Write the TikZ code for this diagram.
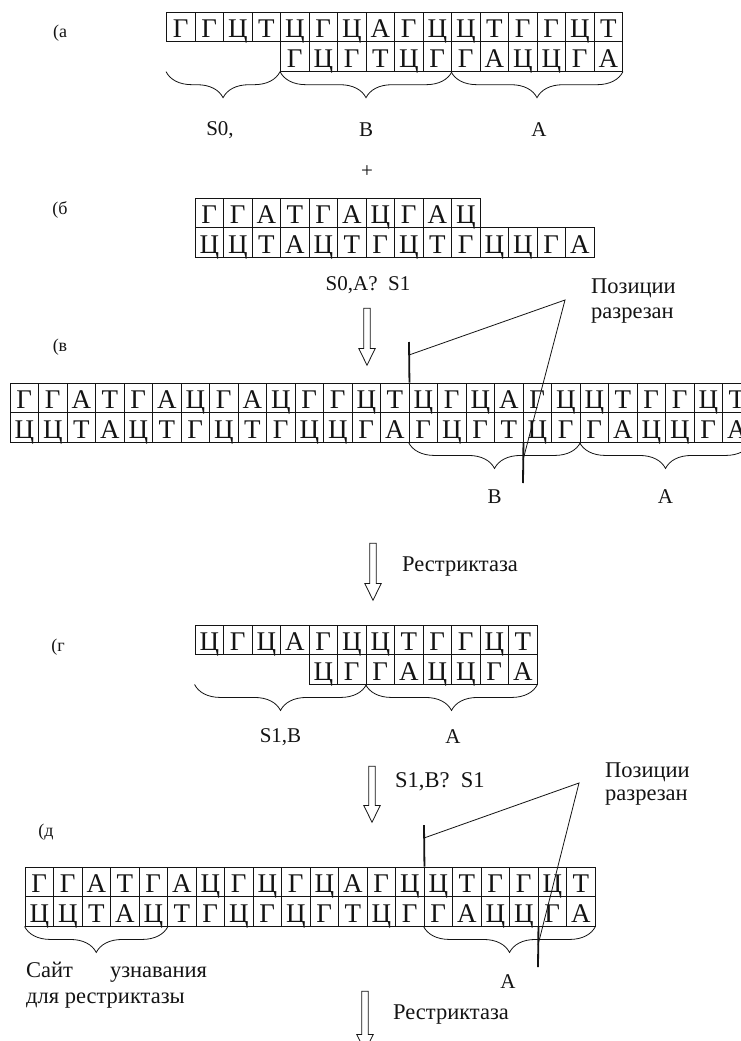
\documentclass[tikz,border=0pt]{standalone}
\usepackage{fontspec}
\setmainfont{Liberation Serif}
\usepackage{tikz}
\usetikzlibrary{decorations.pathreplacing,shapes.arrows}
\definecolor{dnaInk}{HTML}{141414}
\tikzset{
  nuc/.style={rectangle,draw=dnaInk,line width=0.9pt,minimum width=28.5pt,
    minimum height=29.5pt,inner sep=0pt,text height=22pt,text depth=0pt,
    text=dnaInk,font=\fontsize{27}{27}\selectfont},
  panel/.style={text=dnaInk,inner sep=0pt,font=\fontsize{18}{18}\selectfont},
  lbl/.style={text=dnaInk,inner sep=0pt,font=\fontsize{21}{21}\selectfont},
  note/.style={text=dnaInk,inner sep=0pt,anchor=west,font=\fontsize{22.5}{22.5}\selectfont},
  brace/.style={draw=dnaInk,line width=0.8pt,decorate,decoration={brace,mirror,amplitude=26pt}},
  cut/.style={draw=dnaInk,line width=1.8pt},
  pointer/.style={draw=dnaInk,line width=0.8pt},
  bigarrow/.style={single arrow,draw=dnaInk,line width=0.8pt,inner sep=2.8pt,
    single arrow head extend=5pt,single arrow tip angle=52,shape border rotate=270}
}

\begin{document}
\begin{tikzpicture}[x=1pt,y=-1pt]
\useasboundingbox[fill=white] (0,0) rectangle (741,1041);

\node[panel] (pA) at (60,33) {(а};
\foreach \b [count=\i] in {Г,Г,Ц,Т,Ц,Г,Ц,А,Г,Ц,Ц,Т,Г,Г,Ц,Т}
  \node[nuc] (aT\i) at ({166.5+(\i-0.5)*28.5},27) {\b};
\foreach \b [count=\i] in {Г,Ц,Г,Т,Ц,Г,Г,А,Ц,Ц,Г,А}
  \node[nuc] (aB\i) at ({280.5+(\i-0.5)*28.5},56.5) {\b};
\draw[brace] (aT1.south west |- aB1.south) -- (aB1.south west);
\draw[brace] (aB1.south west) -- (aB6.south east);
\draw[brace] (aB7.south west) -- (aB12.south east);
\node[lbl] (aS0) at (220,130) {S0,};
\node[lbl] (aSB) at (366,130) {B};
\node[lbl] (aSA) at (539,130) {A};
\node[lbl] (plus) at (367,172) {+};

\node[panel] (pB) at (60,210) {(б};
\foreach \b [count=\i] in {Г,Г,А,Т,Г,А,Ц,Г,А,Ц}
  \node[nuc] (bT\i) at ({195+(\i-0.5)*28.5},212.75) {\b};
\foreach \b [count=\i] in {Ц,Ц,Т,А,Ц,Т,Г,Ц,Т,Г,Ц,Ц,Г,А}
  \node[nuc] (bB\i) at ({195+(\i-0.5)*28.5},242.25) {\b};
\node[lbl] (bRule) at (368,285) {S0,A?\ \ S1};
\node[bigarrow,minimum height=57pt] (arr1) at (367,333.5) {};
\node[note] (cut1a) at (591,288) {Позиции};
\node[note] (cut1b) at (591,316) {разрезан};
\coordinate (apex1) at (565,300);

\node[panel] (pV) at (60,347) {(в};
\foreach \b [count=\i] in {Г,Г,А,Т,Г,А,Ц,Г,А,Ц,Г,Г,Ц,Т,Ц,Г,Ц,А,Г,Ц,Ц,Т,Г,Г,Ц,Т}
  \node[nuc] (vT\i) at ({10+(\i-0.5)*28.5},397.75) {\b};
\foreach \b [count=\i] in {Ц,Ц,Т,А,Ц,Т,Г,Ц,Т,Г,Ц,Ц,Г,А,Г,Ц,Г,Т,Ц,Г,Г,А,Ц,Ц,Г,А}
  \node[nuc] (vB\i) at ({10+(\i-0.5)*28.5},427.25) {\b};
\coordinate (vCut1) at (409,342);
\coordinate (vJoin1) at (409,355);
\coordinate (vCut2) at (523,483);
\coordinate (vJoin2) at (523,460);
\draw[cut] (vCut1) -- (vT14.north east);
\draw[cut] (vB18.south east) -- (vCut2);
\draw[pointer] (vJoin1) -- (apex1) -- (vJoin2);
\draw[brace] (vB15.south west) -- (vB20.south east);
\draw[brace] (vB21.south west) -- (vB26.south east);
\node[lbl] (vSB) at (494.5,497) {B};
\node[lbl] (vSA) at (665.5,497) {A};

\node[bigarrow,minimum height=57pt] (arr2) at (373,568.5) {};
\node[note] (enz1) at (402,567) {Рестриктаза};

\node[panel] (pG) at (58,647) {(г};
\foreach \b [count=\i] in {Ц,Г,Ц,А,Г,Ц,Ц,Т,Г,Г,Ц,Т}
  \node[nuc] (gT\i) at ({195+(\i-0.5)*28.5},639.75) {\b};
\foreach \b [count=\i] in {Ц,Г,Г,А,Ц,Ц,Г,А}
  \node[nuc] (gB\i) at ({309+(\i-0.5)*28.5},669.25) {\b};
\draw[brace] (gT1.south west |- gB1.south) -- (gB2.south east);
\draw[brace] (gB3.south west) -- (gB8.south east);
\node[lbl] (gS1) at (280.5,737) {S1,B};
\node[lbl] (gSA) at (453,737) {A};

\node[bigarrow,minimum height=56pt] (arr3) at (372,791) {};
\node[note] (gRule) at (395,782) {S1,B?\ \ S1};
\node[note] (cut2a) at (605,772) {Позиции};
\node[note] (cut2b) at (605,798) {разрезан};
\coordinate (apex2) at (579,783);

\node[panel] (pD) at (46,832) {(д};
\foreach \b [count=\i] in {Г,Г,А,Т,Г,А,Ц,Г,Ц,Г,Ц,А,Г,Ц,Ц,Т,Г,Г,Ц,Т}
  \node[nuc] (dT\i) at ({25+(\i-0.5)*28.5},881.75) {\b};
\foreach \b [count=\i] in {Ц,Ц,Т,А,Ц,Т,Г,Ц,Г,Ц,Г,Т,Ц,Г,Г,А,Ц,Ц,Г,А}
  \node[nuc] (dB\i) at ({25+(\i-0.5)*28.5},911.25) {\b};
\coordinate (dCut1) at (424,825);
\coordinate (dJoin1) at (424,838);
\coordinate (dCut2) at (538,967);
\coordinate (dJoin2) at (538,945);
\draw[cut] (dCut1) -- (dT14.north east);
\draw[cut] (dB18.south east) -- (dCut2);
\draw[pointer] (dJoin1) -- (apex2) -- (dJoin2);
\draw[brace] (dB1.south west) -- (dB5.south east);
\draw[brace] (dB15.south west) -- (dB20.south east);
\node[note,anchor=base west] (site1) at (26,977) {Сайт\hspace{37pt}узнавания};
\node[note,anchor=base west] (site2) at (26,1003) {для рестриктазы};
\node[lbl] (dSA) at (508,982) {A};

\node[bigarrow,minimum height=60pt] (arr4) at (365,1018) {};
\node[note] (enz2) at (393,1015) {Рестриктаза};
\end{tikzpicture}
\end{document}
